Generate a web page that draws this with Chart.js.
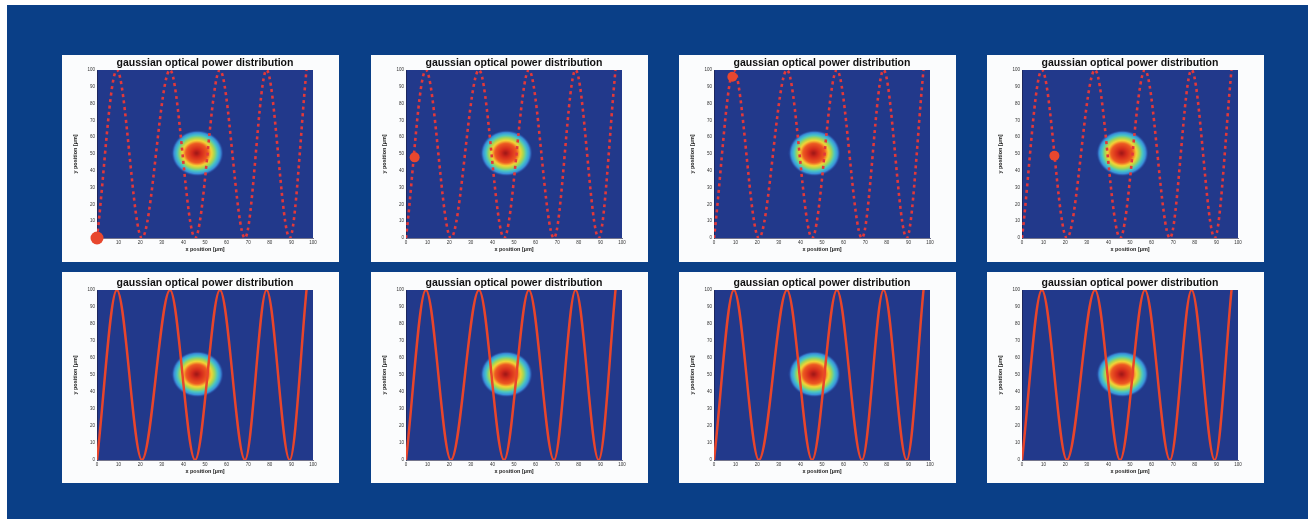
<!DOCTYPE html>
<html>
<head>
<meta charset="utf-8">
<script src="https://cdn.jsdelivr.net/npm/chart.js@4/dist/chart.umd.min.js"></script>
<style>
  body { margin: 0; background: #ffffff; width: 1308px; height: 519px; overflow: hidden; }
  #stage { position: absolute; left: 7px; top: 5px; width: 1301px; height: 514px; background: #0a3f87; }
  .card { position: absolute; background: #fbfcfd; }
  .card canvas { display: block; }
</style>
</head>
<body>
<div id="stage"></div>
<script>
// scan path turning points (x, y in µm)
const scanX = [0, 9.2, 20.8, 33.8, 45.4, 56.9, 68.5, 78.5, 89.2, 97];
const scanY = [0, 100, 0, 100, 0, 100, 0, 100, 0, 100];

// axis ticks
const xTicks = [0, 10, 20, 30, 40, 50, 60, 70, 80, 90, 100];
const yTicks = [0, 10, 20, 30, 40, 50, 60, 70, 80, 90, 100];

// beam centre (µm)
const beamX = [46.5];
const beamY = [50.5];

// moving spot in the top row, one per panel
const spotX = [0, 4, 8.5, 15];
const spotY = [0, 48, 96, 49];

// jet-like colour stops of the gaussian spot, centre -> edge
const jetStops = [
    [0.00, '#9c1616'],
    [0.18, '#d42a1c'],
    [0.42, '#ee5a22'],
    [0.55, '#f6d436'],
    [0.66, '#a8d650'],
    [0.78, '#46c6c8'],
    [0.90, '#3a8edb'],
    [1.00, 'rgba(40,70,160,0)']
];

const titleText = 'gaussian optical power distribution';

// layout of the cards (page pixels)
const cardLeft = [62, 371, 679, 987];
const cardWidth = 277;
const rowTop = [55, 272];
const rowHeight = [207, 211];
const plotTop = [15, 18];
const titleY = [8.5, 11];

const plotBg = '#22398b';
const fontFamily = 'Liberation Sans, Arial, sans-serif';

/**
 * Build the blurred elliptical spot used as the beam point style
 */
function makeBeamImage() {
    const c = document.createElement('canvas');
    c.width = 52;
    c.height = 46;
    const ctx = c.getContext('2d');
    ctx.save();
    ctx.translate(26, 23);
    ctx.scale(1, 23 / 26);
    const g = ctx.createRadialGradient(-1, 0, 0, 0, 0, 26);
    jetStops.forEach(s => g.addColorStop(s[0], s[1]));
    ctx.fillStyle = g;
    ctx.beginPath();
    ctx.arc(0, 0, 26, 0, Math.PI * 2);
    ctx.fill();
    ctx.restore();
    return c;
}

const beamImage = makeBeamImage();

// dark plot background + title centred over the plot area (matlab style)
const plotDecor = {
    id: 'plotDecor',
    beforeDraw(chart, args, opts) {
        const a = chart.chartArea;
        const ctx = chart.ctx;
        ctx.save();
        ctx.fillStyle = plotBg;
        ctx.fillRect(a.left, a.top, a.right - a.left, a.bottom - a.top);
        ctx.fillStyle = '#111';
        ctx.font = 'bold 10.5px ' + fontFamily;
        ctx.textAlign = 'center';
        ctx.textBaseline = 'middle';
        ctx.fillText(titleText, (a.left + a.right) / 2, opts.y);
        ctx.restore();
    }
};

function makePanel(row, col) {
    const card = document.createElement('div');
    card.className = 'card';
    card.style.left = (cardLeft[col] - 7) + 'px';
    card.style.top = (rowTop[row] - 5) + 'px';
    card.style.width = cardWidth + 'px';
    card.style.height = rowHeight[row] + 'px';
    const canvas = document.createElement('canvas');
    canvas.width = cardWidth;
    canvas.height = rowHeight[row];
    card.appendChild(canvas);
    document.getElementById('stage').appendChild(card);

    const path = scanX.map((x, i) => ({ x: x, y: scanY[i] }));
    const datasets = [];

    if (row === 0) {
        datasets.push({
            data: [{ x: spotX[col], y: spotY[col] }],
            showLine: false,
            pointRadius: col === 0 ? 6.5 : 5,
            pointBackgroundColor: '#e8472e',
            pointBorderWidth: 0,
            clip: false
        });
    }
    datasets.push({
        data: path,
        showLine: true,
        cubicInterpolationMode: 'monotone',
        borderColor: row === 0 ? '#e2383a' : '#e8452b',
        borderWidth: row === 0 ? 2.6 : 2.5,
        borderDash: row === 0 ? [3, 3.5] : [],
        pointRadius: 0
    });
    datasets.push({
        data: [{ x: beamX[0], y: beamY[0] }],
        showLine: false,
        pointStyle: beamImage,
        pointRadius: 26,
        clip: false
    });

    const tickFont = { family: fontFamily, size: 4.5 };
    const axisTitleFont = { family: fontFamily, size: 5.5, weight: 'bold' };

    new Chart(canvas.getContext('2d'), {
        type: 'scatter',
        data: { datasets: datasets },
        options: {
            responsive: false,
            animation: false,
            devicePixelRatio: 1,
            layout: { autoPadding: false, padding: { left: 0, right: 26, top: plotTop[row], bottom: 0 } },
            scales: {
                x: {
                    type: 'linear',
                    min: 0,
                    max: 100,
                    afterBuildTicks: s => { s.ticks = xTicks.map(v => ({ value: v })); },
                    afterFit: s => { s.height = row === 0 ? 24 : 23; },
                    grid: { display: false, drawTicks: false },
                    border: { display: true, color: '#1a1a40', width: 0.6 },
                    ticks: { font: tickFont, color: '#333', padding: 2, maxRotation: 0, autoSkip: false },
                    title: { display: true, text: 'x position [µm]', font: axisTitleFont, color: '#222',
                             padding: { top: 0, bottom: row === 0 ? 9 : 8 } }
                },
                y: {
                    type: 'linear',
                    min: 0,
                    max: 100,
                    afterBuildTicks: s => { s.ticks = yTicks.map(v => ({ value: v })); },
                    afterFit: s => { s.width = 35; },
                    grid: { display: false, drawTicks: false },
                    border: { display: true, color: '#1a1a40', width: 0.6 },
                    ticks: { font: tickFont, color: '#333', padding: 2, autoSkip: false },
                    title: { display: true, text: 'y position [µm]', font: axisTitleFont, color: '#222',
                             padding: { top: 10, bottom: 0 } }
                }
            },
            plugins: {
                legend: { display: false },
                tooltip: { enabled: false },
                title: { display: false },
                plotDecor: { y: titleY[row] }
            }
        },
        plugins: [plotDecor]
    });
}

for (let row = 0; row < 2; row++) {
    for (let col = 0; col < 4; col++) {
        makePanel(row, col);
    }
}
</script>
</body>
</html>
